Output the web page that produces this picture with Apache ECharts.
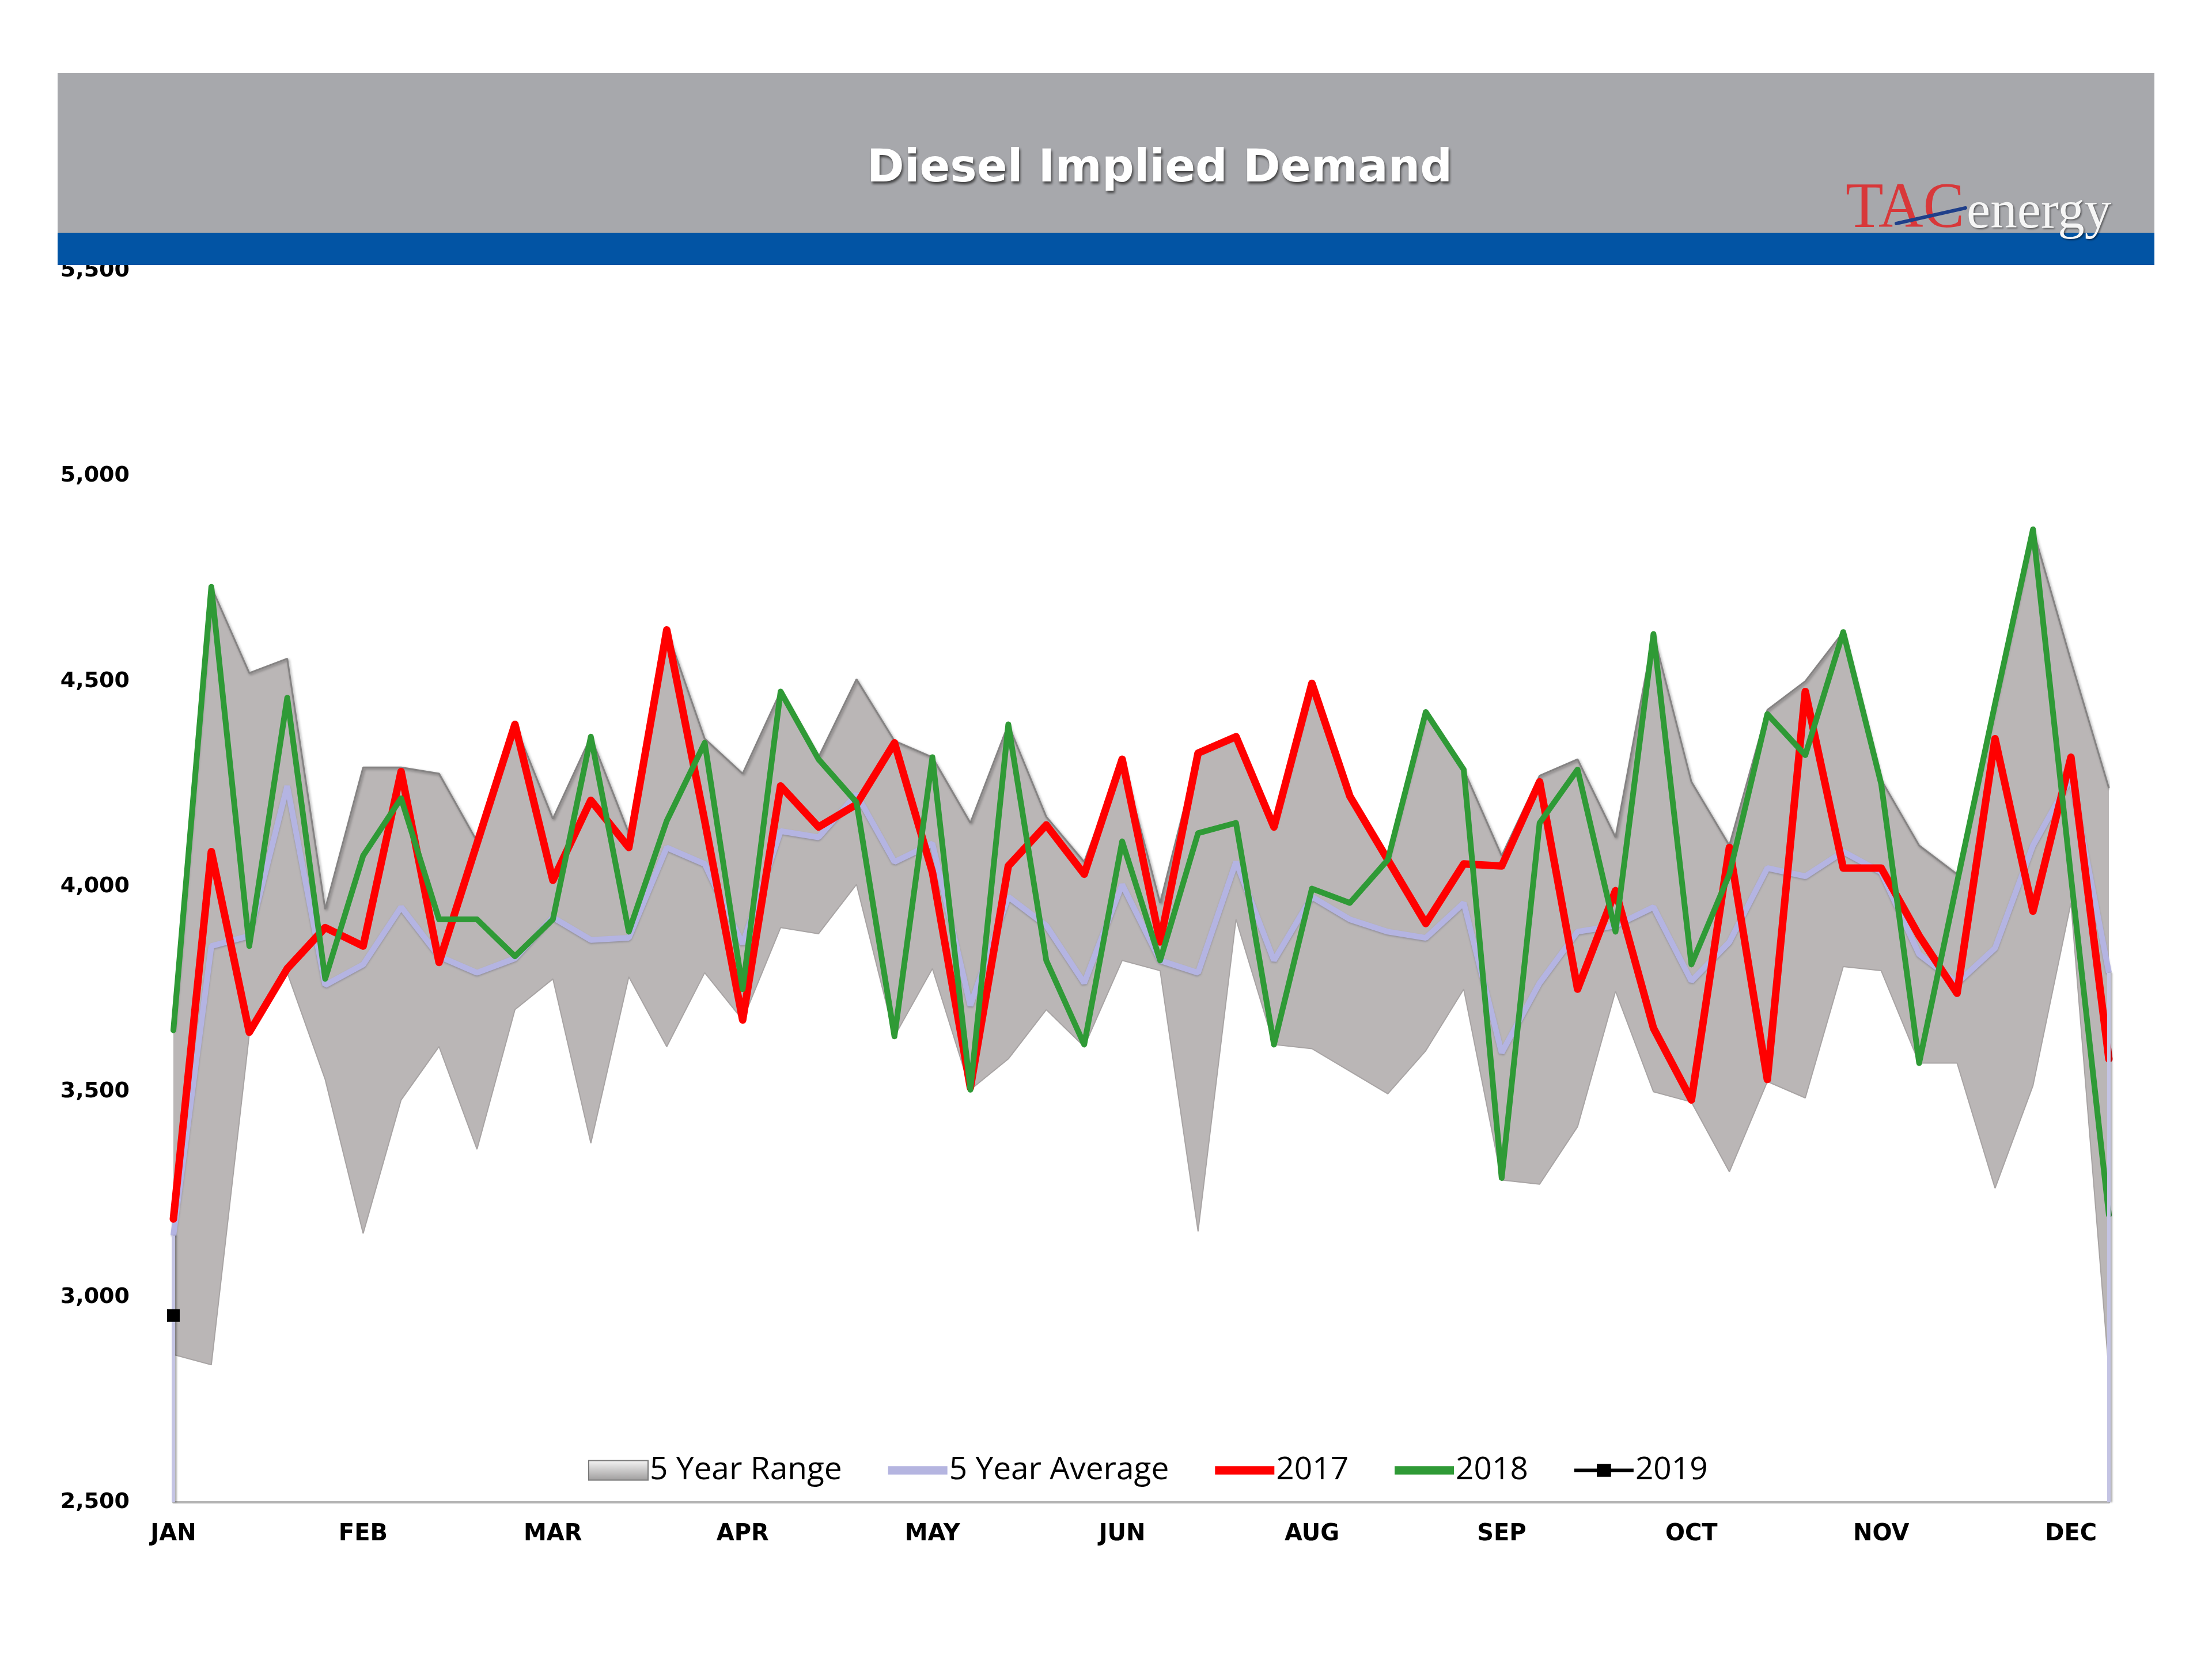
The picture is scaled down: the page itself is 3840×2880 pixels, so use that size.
<!DOCTYPE html>
<html><head><meta charset="utf-8">
<script src="https://cdn.jsdelivr.net/npm/echarts@6/dist/echarts.min.js"></script>
<style>html,body{margin:0;padding:0;background:#fff}#c{width:3840px;height:2880px}</style>
</head><body><div id="c"></div>
<script>
const weeks = ['W1','W2','W3','W4','W5','W6','W7','W8','W9','W10','W11','W12','W13','W14','W15','W16','W17','W18','W19','W20','W21','W22','W23','W24','W25','W26','W27','W28','W29','W30','W31','W32','W33','W34','W35','W36','W37','W38','W39','W40','W41','W42','W43','W44','W45','W46','W47','W48','W49','W50','W51','W52'];
const monthTicks = ['JAN','FEB','MAR','APR','MAY','JUN','AUG','SEP','OCT','NOV','DEC'];
const yTicks = [2500, 3000, 3500, 4000, 4500, 5000, 5500];

const rangeLow = [2860,2835,3640,3790,3530,3155,3480,3610,3360,3700,3775,3375,3780,3610,3790,3675,3900,3885,4005,3635,3800,3505,3580,3700,3610,3820,3795,3160,3920,3615,3605,3550,3495,3600,3750,3285,3275,3415,3745,3500,3475,3305,3525,3485,3805,3795,3570,3570,3265,3515,3960,2820];
const rangeHigh = [3650,4730,4520,4555,3945,4290,4290,4275,4110,4395,4165,4365,4130,4625,4360,4275,4475,4315,4505,4355,4315,4155,4395,4170,4060,4310,3960,4325,4365,4145,4495,4220,4070,4425,4285,4075,4270,4310,4120,4615,4255,4100,4430,4500,4620,4260,4100,4030,4445,4870,4550,4240];
const avg5 = [3150,3855,3880,4245,3760,3810,3950,3830,3790,3825,3925,3870,3875,4095,4055,3860,4135,4120,4225,4060,4105,3710,3975,3905,3765,4005,3820,3790,4060,3820,3975,3920,3890,3875,3960,3595,3765,3890,3905,3950,3770,3865,4045,4025,4085,4035,3835,3765,3850,4100,4265,3790];
const y2017 = [3190,4085,3645,3800,3900,3855,4280,3815,4105,4395,4015,4210,4095,4625,4160,3675,4245,4145,4200,4350,4035,3510,4050,4150,4030,4310,3865,4325,4365,4145,4495,4220,4065,3910,4055,4050,4255,3750,3990,3655,3480,4095,3530,4475,4045,4045,3880,3740,4360,3940,4315,3580];
const y2018 = [3650,4730,3855,4460,3775,4075,4215,3920,3920,3830,3920,4365,3890,4160,4350,3750,4475,4310,4205,3635,4315,3505,4395,3820,3615,4110,3820,4130,4155,3615,3995,3960,4065,4425,4285,3290,4155,4285,3890,4615,3810,4030,4420,4320,4620,4250,3570,4010,4445,4870,4025,3200];
const y2019 = [2955];

const rangeSpan = rangeHigh.map((h, i) => h - rangeLow[i]);
const lastIdx = weeks.length - 1;

const barIcon = 'path://M0,0 L100,0 L100,14 L0,14 Z';
const markerIcon = 'path://M0,8 L38,8 L38,0 L62,0 L62,8 L100,8 L100,14 L62,14 L62,22 L38,22 L38,14 L0,14 Z';

const chart = echarts.init(document.getElementById('c'), null, {renderer: 'canvas'});
const boldFont = 'DejaVu Sans';
chart.setOption({
  backgroundColor: '#ffffff',
  animation: false,
  grid: {left: 301, right: 179, top: 470, bottom: 272, containLabel: false},
  xAxis: {
    type: 'category', data: weeks, boundaryGap: false,
    axisLine: {show: true, lineStyle: {color: '#b4b4b4', width: 4}},
    axisTick: {show: false},
    axisLabel: {
      interval: 0, margin: 36, color: '#000', fontFamily: boldFont, fontWeight: 'bold', fontSize: 40,
      formatter: (v, i) => (i % 5 === 0 ? (monthTicks[i / 5] || '') : '')
    },
    splitLine: {show: false}
  },
  yAxis: {
    type: 'value', min: yTicks[0], max: yTicks[yTicks.length - 1], interval: yTicks[1] - yTicks[0],
    axisLine: {show: false}, axisTick: {show: false}, splitLine: {show: false},
    axisLabel: {margin: 76, color: '#000', fontFamily: boldFont, fontWeight: 'bold', fontSize: 38,
      formatter: v => v.toLocaleString('en-US')}
  },
  legend: {
    left: 1016, top: 2520, itemWidth: 103, itemHeight: 34, itemGap: 80,
    textStyle: {fontFamily: 'Open Sans', fontSize: 55, color: '#000', padding: [0, 0, 0, -2]},
    data: [
      {name: '5 Year Range', icon: 'rect', itemStyle: {color: new echarts.graphic.LinearGradient(0, 0, 0, 1, [{offset: 0, color: '#f6f6f6'}, {offset: 1, color: '#9e9c9c'}]), borderColor: '#7a7a7a', borderWidth: 2}},
      {name: '5 Year Average', icon: barIcon, itemStyle: {color: '#b5b5e0'}},
      {name: '2017', icon: barIcon, itemStyle: {color: '#ff0000'}},
      {name: '2018', icon: barIcon, itemStyle: {color: '#2f9a36'}},
      {name: '2019', icon: markerIcon, itemStyle: {color: '#000'}}
    ]
  },
  series: [
    {name: 'low', type: 'line', stack: 'range', data: rangeLow, symbol: 'none', silent: true,
      lineStyle: {color: '#a8a4a4', width: 2}, z: 1},
    {name: '5 Year Range', type: 'line', stack: 'range', data: rangeSpan, symbol: 'none',
      lineStyle: {color: '#858383', width: 3, shadowColor: 'rgba(0,0,0,0.35)', shadowBlur: 4, shadowOffsetX: 2, shadowOffsetY: 2},
      areaStyle: {color: '#bab6b6', opacity: 1}, z: 1},
    {name: '5 Year Average', type: 'line', data: avg5, symbol: 'none',
      lineStyle: {color: '#b4b4e2', width: 10, shadowColor: 'rgba(80,80,110,0.35)', shadowBlur: 3, shadowOffsetY: 2}, z: 2,
      markLine: {silent: true, symbol: 'none', label: {show: false},
        lineStyle: {color: '#c4c4e4', width: 6, type: 'solid', shadowColor: 'rgba(0,0,0,0.3)', shadowBlur: 3, shadowOffsetX: 3},
        data: [
          [{coord: [0, yTicks[0]]}, {coord: [0, avg5[0]]}],
          [{coord: [lastIdx, yTicks[0]]}, {coord: [lastIdx, avg5[lastIdx]]}]
        ]}},
    {name: '2017', type: 'line', data: y2017, symbol: 'none',
      lineStyle: {color: '#ff0000', width: 13, join: 'round', cap: 'round'}, z: 3},
    {name: '2018', type: 'line', data: y2018, symbol: 'none',
      lineStyle: {color: '#2f9a36', width: 10, join: 'round', cap: 'round'}, z: 4},
    {name: '2019', type: 'line', data: y2019, symbol: 'rect', symbolSize: 22,
      itemStyle: {color: '#000'}, lineStyle: {color: '#000', width: 6}, z: 5}
  ],
  graphic: [
    {type: 'rect', z: 100, shape: {x: 100, y: 127, width: 3640, height: 277}, style: {fill: '#a7a8ac'}},
    {type: 'rect', z: 100, shape: {x: 100, y: 404, width: 3640, height: 56}, style: {fill: '#0254a4'}},
    {type: 'text', z: 101, x: 2013, y: 295, style: {
      text: 'Diesel Implied Demand', align: 'center', verticalAlign: 'middle',
      font: 'bold 78px "DejaVu Sans"', fill: '#ffffff',
      textShadowColor: 'rgba(40,40,40,0.8)', textShadowBlur: 4, textShadowOffsetX: 2, textShadowOffsetY: 4}},
    {type: 'text', z: 101, x: 3204, y: 364, scaleX: 0.95, style: {
      text: 'TAC', align: 'left', verticalAlign: 'middle',
      font: '113px "Liberation Serif"', fill: '#d8383a'}},
    {type: 'text', z: 101, x: 3414, y: 371, style: {
      text: 'energy', align: 'left', verticalAlign: 'middle',
      font: '93px "Liberation Serif"', fill: '#f6f6f6',
      textShadowColor: 'rgba(0,0,0,0.45)', textShadowBlur: 3, textShadowOffsetX: 2, textShadowOffsetY: 2}},
    {type: 'line', z: 102, shape: {x1: 3292, y1: 388, x2: 3412, y2: 361}, style: {stroke: '#1f3f8a', lineWidth: 6, lineCap: 'round'}}
  ]
});
</script></body></html>
